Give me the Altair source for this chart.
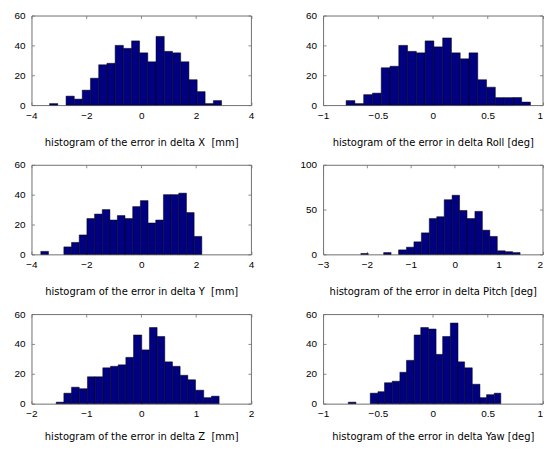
import altair as alt
import pandas as pd

LABEL_FONT = "Liberation Sans"
TITLE_FONT = "DejaVu Sans"
BAR_FILL = "#000080"
FRAME = "#707070"

# ---- data (bin edges and counts) ----
x_edges = [-3.34, -3.04, -2.74, -2.44, -2.15, -1.85, -1.55, -1.25, -0.95, -0.65, -0.35,
           -0.06, 0.24, 0.54, 0.84, 1.14, 1.44, 1.74, 2.04, 2.33, 2.63, 2.93]
x_counts = [1, 0, 6, 4, 10, 18, 27, 28, 40, 38, 43, 35, 29, 46, 36, 35, 29, 17, 9, 1, 3]

roll_edges = [-0.79, -0.71, -0.63, -0.55, -0.47, -0.39, -0.31, -0.23, -0.15, -0.07, 0.01,
              0.09, 0.17, 0.25, 0.33, 0.41, 0.49, 0.57, 0.65, 0.73, 0.81, 0.89]
roll_counts = [3, 1, 7, 8, 25, 26, 40, 36, 35, 43, 39, 45, 35, 31, 35, 17, 12, 5, 5, 5, 2]

y_edges = [-3.66, -3.38, -3.10, -2.82, -2.54, -2.26, -1.98, -1.70, -1.42, -1.14, -0.87,
           -0.59, -0.31, -0.03, 0.25, 0.53, 0.81, 1.09, 1.37, 1.65, 1.93, 2.21]
y_counts = [2, 0, 0, 5, 8, 13, 24, 27, 30, 23, 26, 24, 32, 36, 21, 23, 40, 40, 41, 28, 12]

pitch_edges = [-2.14, -1.97, -1.79, -1.62, -1.45, -1.28, -1.10, -0.93, -0.76, -0.58, -0.41,
               -0.24, -0.06, 0.11, 0.28, 0.46, 0.63, 0.80, 0.97, 1.15, 1.32, 1.49]
pitch_counts = [1, 0, 0, 2, 0, 5, 8, 14, 24, 40, 42, 61, 66, 49, 40, 48, 27, 20, 4, 3, 2]

z_edges = [-1.55, -1.41, -1.27, -1.13, -0.98, -0.84, -0.70, -0.56, -0.42, -0.28, -0.14,
           0.01, 0.15, 0.29, 0.43, 0.57, 0.71, 0.85, 0.99, 1.14, 1.28, 1.42]
z_counts = [1, 7, 11, 10, 18, 18, 24, 25, 26, 31, 46, 36, 51, 45, 28, 25, 19, 16, 9, 4, 5]

yaw_edges = [-0.77, -0.70, -0.64, -0.57, -0.50, -0.44, -0.37, -0.30, -0.24, -0.17, -0.11,
             -0.04, 0.03, 0.09, 0.16, 0.23, 0.29, 0.36, 0.43, 0.49, 0.56, 0.62]
yaw_counts = [1, 0, 0, 7, 8, 14, 15, 21, 29, 46, 51, 50, 33, 45, 54, 28, 24, 13, 4, 6, 7]

titles = [
    "histogram of the error in delta X\u00a0 [mm]",
    "histogram of the error in delta Roll [deg]",
    "histogram of the error in delta Y\u00a0 [mm]",
    "histogram of the error in delta Pitch [deg]",
    "histogram of the error in delta Z\u00a0 [mm]",
    "histogram of the error in delta Yaw [deg]",
]
x_domains = [[-4, 4], [-1, 1], [-4, 4], [-3, 2], [-2, 2], [-1, 1]]
x_tick_values = [[-4, -2, 0, 2, 4], [-1, -0.5, 0, 0.5, 1], [-4, -2, 0, 2, 4],
                 [-3, -2, -1, 0, 1, 2], [-2, -1, 0, 1, 2], [-1, -0.5, 0, 0.5, 1]]
y_domains = [[0, 60], [0, 60], [0, 60], [0, 100], [0, 60], [0, 60]]
y_tick_values = [[0, 20, 40, 60], [0, 20, 40, 60], [0, 20, 40, 60],
                 [0, 50, 100], [0, 20, 40, 60], [0, 20, 40, 60]]
all_edges = [x_edges, roll_edges, y_edges, pitch_edges, z_edges, yaw_edges]
all_counts = [x_counts, roll_counts, y_counts, pitch_counts, z_counts, yaw_counts]

TICK = 3
W, H = 220.5, 90


def panel(i):
    edges, counts = all_edges[i], all_counts[i]
    xdom, xticks = x_domains[i], x_tick_values[i]
    ydom, yticks = y_domains[i], y_tick_values[i]
    right_col = (i % 2 == 1)
    bottom_row = (i >= 4)
    df = pd.DataFrame({"lo": edges[:-1], "hi": edges[1:], "count": counts})
    df = df[df["count"] > 0]
    xs = alt.Scale(domain=xdom, nice=False, zero=False)
    ys = alt.Scale(domain=ydom, nice=False)
    xaxis_kw = dict(values=xticks, format=".1~f", orient="bottom", title=titles[i],
                    tickSize=TICK, offset=-TICK, labelPadding=5,
                    titlePadding=13 if bottom_row else 17.5)
    if right_col:
        xaxis_kw["labelAlign"] = {"expr": "datum.value >= %s ? 'right' : 'center'" % xdom[1]}
    base = alt.Chart(df).properties(width=W, height=H)
    bars = base.mark_rect(fill=BAR_FILL, stroke="black", strokeWidth=0.5, opacity=1).encode(
        x=alt.X("lo:Q", scale=xs, axis=alt.Axis(**xaxis_kw)),
        x2="hi",
        y=alt.Y("count:Q", scale=ys,
                axis=alt.Axis(values=yticks, format=".1~f", orient="left", title=None,
                              tickSize=TICK, offset=-TICK, labelPadding=6.5)),
        y2=alt.datum(0),
    )
    ticks = base.mark_rect(opacity=0).encode(
        x=alt.X("lo:Q", scale=xs,
                axis=alt.Axis(values=xticks, orient="top", labels=False, title=None,
                              tickSize=TICK, offset=-TICK, minExtent=0, maxExtent=0)),
        x2="hi",
        y=alt.Y("count:Q", scale=ys,
                axis=alt.Axis(values=yticks, orient="right", labels=False, title=None,
                              tickSize=TICK, offset=-TICK, minExtent=0, maxExtent=0)),
        y2=alt.datum(0),
    )
    return alt.layer(bars, ticks).resolve_axis(x="independent", y="independent")


panels = [panel(i) for i in range(6)]

chart = alt.concat(*panels, columns=2, spacing={"row": 60, "column": 72}, bounds="flush").properties(
    padding={"left": 4.6, "top": 0.5, "right": 0, "bottom": 0},
    background="white",
).configure_view(
    stroke=FRAME, strokeWidth=1
).configure_axis(
    labelFont=LABEL_FONT, titleFont=TITLE_FONT, labelColor="black", titleColor="black",
    labelFontSize=10, titleFontSize=10, titleFontWeight="normal",
    tickColor=FRAME, tickWidth=0.8, grid=False, domain=False,
    labelFlush=False, labelOverlap=False,
)

chart.save("out.html", embed_options={"renderer": "svg", "actions": False})
